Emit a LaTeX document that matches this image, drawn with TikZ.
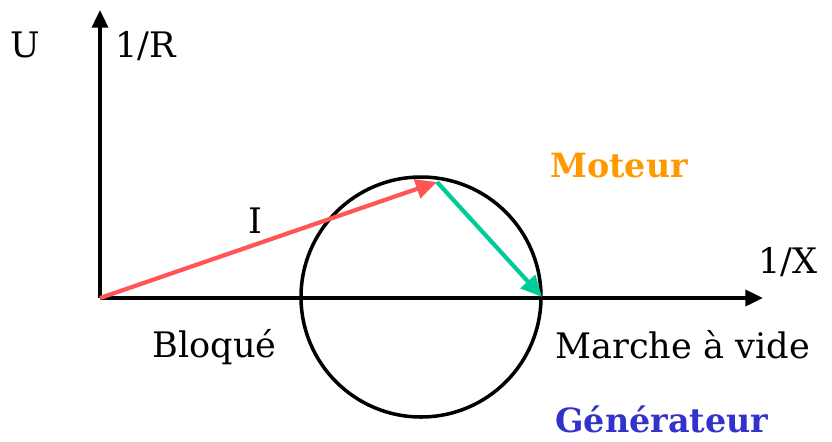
\documentclass[tikz,border=0pt]{standalone}
\usepackage{fontspec}
\setmainfont{DejaVu Serif}
\usepackage{tikz}
\usetikzlibrary{positioning, arrows.meta}
\definecolor{rougeI}{HTML}{FF5555}
\definecolor{vertE}{HTML}{00CC99}
\definecolor{orangeM}{HTML}{FF9900}
\definecolor{bleuG}{HTML}{3333CC}
\tikzset{
  axe/.style={line width=2.2pt, -{Triangle[length=10pt, width=9pt]}},
  vecteur/.style={line width=2.4pt, -{Triangle[length=12pt, width=11pt]}},
  lbl/.style={font=\fontsize{20}{24}\selectfont, inner sep=0pt, anchor=base west},
  zone/.style={font=\fontsize{19}{23}\selectfont\bfseries, inner sep=0pt, anchor=base west}
}

\begin{document}
\begin{tikzpicture}[x=0.02cm, y=0.02cm]
  \useasboundingbox (0,0) rectangle (832,441);
  % axes : 1/X horizontal, 1/R vertical
  \coordinate (O) at (100,143);
  \coordinate (ymax) at (100,431);
  \coordinate (xmax) at (763,143);
  \draw[axe] (O) -- (ymax);
  \draw[axe] (O) -- (xmax);
  % cercle de fonctionnement
  \coordinate (C) at (421,144);
  \draw[line width=2pt] (C) circle (120);
  \coordinate (P) at (437,259);
  \coordinate (V) at (542,144);
  \draw[vecteur, rougeI] (O) -- (P);
  \draw[vecteur, vertE] (P) -- (V);
  % textes
  \node[lbl] (u) at (10,384) {U};
  \node[lbl] (invR) at (115,384) {1/R};
  \node[lbl] (i) at (248,208) {I};
  \node[lbl] (invX) at (758,168) {1/X};
  \node[lbl] (bloque) at (152,84) {Bloqué};
  \node[lbl] (vide) at (555,83) {Marche à vide};
  \node[zone, orangeM] (moteur) at (550,264) {Moteur};
  \node[zone, bleuG] (gen) at (555,9) {Générateur};
\end{tikzpicture}
\end{document}
